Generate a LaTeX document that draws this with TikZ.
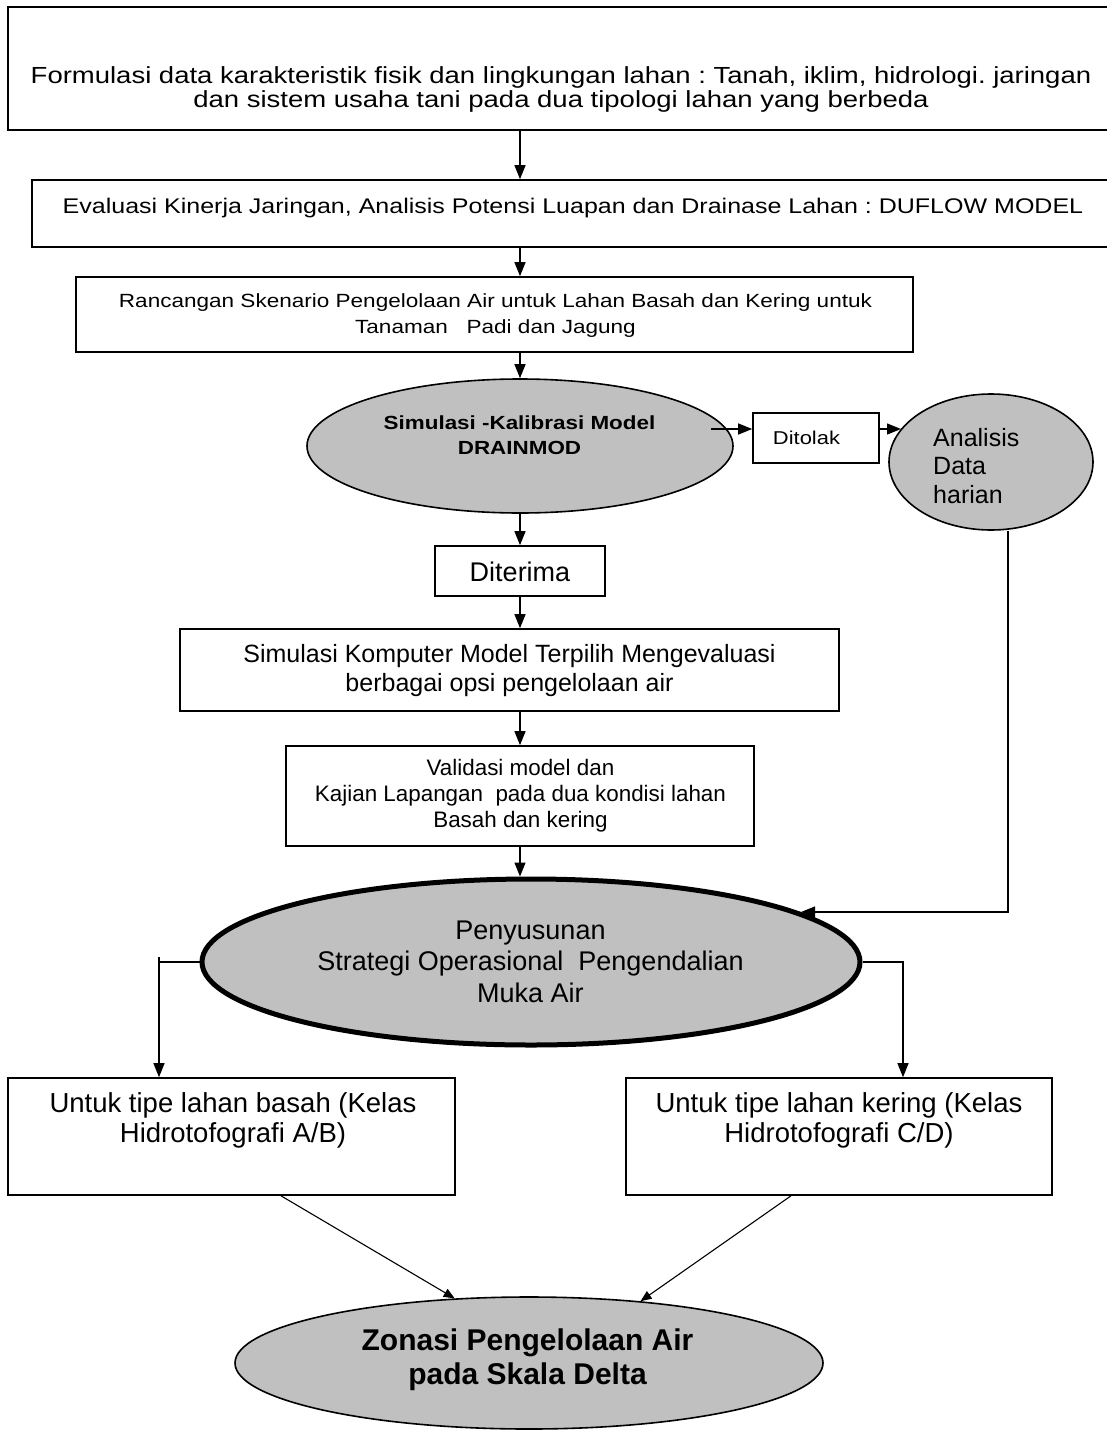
\documentclass[tikz,border=0pt]{standalone}
\usepackage{fontspec}
\setmainfont{Liberation Sans}
\newfontfamily\wide[FakeStretch=1.18]{Liberation Sans}
\usetikzlibrary{arrows.meta,shapes.geometric}
\definecolor{gfill}{RGB}{192,192,192}
\newcommand\fsz[2]{\fontsize{#1}{#2}\selectfont}
\frenchspacing
\begin{document}
\begin{tikzpicture}[x=1pt,y=-1pt,
  box/.style={draw, line width=1.6pt, inner sep=0pt},
  ell/.style={ellipse, draw, fill=gfill, line width=1.6pt, inner sep=0pt},
  txt/.style={align=center, inner sep=0pt},
  arr/.style={line width=1.3pt, -{Triangle[length=14pt,width=11pt]}},
  arrs/.style={line width=1.1pt, -{Triangle[length=11pt,width=9pt]}},
  plain/.style={line width=1.3pt}]
\fill[white] (0,0) rectangle (1107,1430);
\useasboundingbox (0,0) rectangle (1107,1430);

% shapes
\node[box, minimum width=1107pt, minimum height=123pt] (b1) at (561.5,68.5) {};
\node[box, minimum width=1083pt, minimum height=67pt] (b2) at (573.5,213.5) {};
\node[box, minimum width=837pt, minimum height=75pt] (b3) at (494.5,314.5) {};
\node[ell, minimum width=426pt, minimum height=134pt] (e1) at (520,446) {};
\node[box, minimum width=126pt, minimum height=50pt] (dt) at (816,438) {};
\node[ell, minimum width=204pt, minimum height=136pt] (an) at (991,462) {};
\node[box, minimum width=170pt, minimum height=50pt] (di) at (520,571) {};
\node[box, minimum width=659pt, minimum height=82pt] (b4) at (509.5,670) {};
\node[box, minimum width=468pt, minimum height=100pt] (b5) at (520,796) {};
\node[ell, line width=5pt, minimum width=658pt, minimum height=166pt] (e2) at (531,962) {};
\node[box, minimum width=447pt, minimum height=117pt] (b6) at (231.5,1136.5) {};
\node[box, minimum width=426pt, minimum height=117pt] (b7) at (839,1136.5) {};
\node[ell, minimum width=588pt, minimum height=132pt] (e4) at (529,1363) {};

% texts
\node[txt, font=\wide\fsz{23.3}{24}] (t1) at (561,89)
  {Formulasi data karakteristik fisik dan lingkungan lahan : Tanah, iklim, hidrologi. jaringan\\dan sistem usaha tani pada dua tipologi lahan yang berbeda};
\node[txt, font=\wide\fsz{21.2}{24}] (t2) at (573,208)
  {Evaluasi Kinerja Jaringan, Analisis Potensi Luapan dan Drainase Lahan : DUFLOW MODEL};
\node[txt, font=\wide\fsz{19.1}{26}] (t3) at (495.5,316)
  {Rancangan Skenario Pengelolaan Air untuk Lahan Basah dan Kering untuk\\Tanaman\ \ \ Padi dan Jagung};
\node[txt, font=\wide\bfseries\fsz{19}{25}] (te1) at (519.5,435)
  {Simulasi -Kalibrasi Model\\DRAINMOD};
\node[txt, font=\wide\fsz{18.6}{22}] (tdt) at (806.5,438) {Ditolak};
\node[txt, align=left, anchor=west, font=\fsz{25}{28.5}] (tan) at (933,466)
  {Analisis\\Data\\harian};
\node[txt, font=\fsz{27}{30}] (tdi) at (520,572) {Diterima};
\node[txt, font=\fsz{25}{29}] (t4) at (509.5,670.5)
  {Simulasi Komputer Model Terpilih Mengevaluasi\\berbagai opsi pengelolaan air};
\node[txt, font=\fsz{22.4}{26}] (t5) at (520.5,796)
  {Validasi model dan\\Kajian Lapangan\ \ pada dua kondisi lahan\\Basah dan kering};
\node[txt, font=\fsz{27}{31.5}] (te2) at (530.5,961.5)
  {Penyusunan\\Strategi Operasional\ \ Pengendalian\\Muka Air};
\node[txt, font=\fsz{27.5}{30}] (t6) at (233,1120)
  {Untuk tipe lahan basah (Kelas\\Hidrotofografi A/B)};
\node[txt, font=\fsz{27.5}{30}] (t7) at (839,1120)
  {Untuk tipe lahan kering (Kelas\\Hidrotofografi C/D)};
\node[txt, font=\bfseries\fsz{30}{34}] (te4) at (527.5,1360)
  {Zonasi Pengelolaan Air\\pada Skala Delta};

% helper coordinates
\coordinate (c1) at (711,429);
\coordinate (c2) at (901,429);
\coordinate (c3) at (1008,912);
\coordinate (c4) at (801,912);
\coordinate (c5) at (159,957);
\coordinate (c6) at (903,962);

% connectors
\draw[arr] (b1.south -| e1.north) -- (b2.north -| e1.north);
\draw[arr] (b2.south -| e1.north) -- (b3.north -| e1.north);
\draw[arr] (b3.south -| e1.north) -- (e1.north);
\draw[arr] (c1) -- (c1 -| dt.west);
\draw[arr] (c1 -| dt.east) -- (c2);
\draw[arr] (e1.south) -- (di.north);
\draw[arr] (di.south) -- (b4.north -| di.south);
\draw[arr] (b4.south -| b5.north) -- (b5.north);
\draw[arr] (b5.south) -- (e2.north -| b5.south);
\draw[arr] (c3 |- an.south) -- (c3) -- (c4);
\draw[plain] (e2.west) -- (e2.west -| c5);
\draw[arr] (c5) -- (c5 |- b6.north);
\draw[arr] (e2.east) -- (c6) -- (c6 |- b7.north);
\draw[arrs] ([xshift=49.5pt]b6.south) -- (e4.139.5);
\draw[arrs] ([xshift=-48pt]b7.south) -- (e4.29);
\end{tikzpicture}
\end{document}
